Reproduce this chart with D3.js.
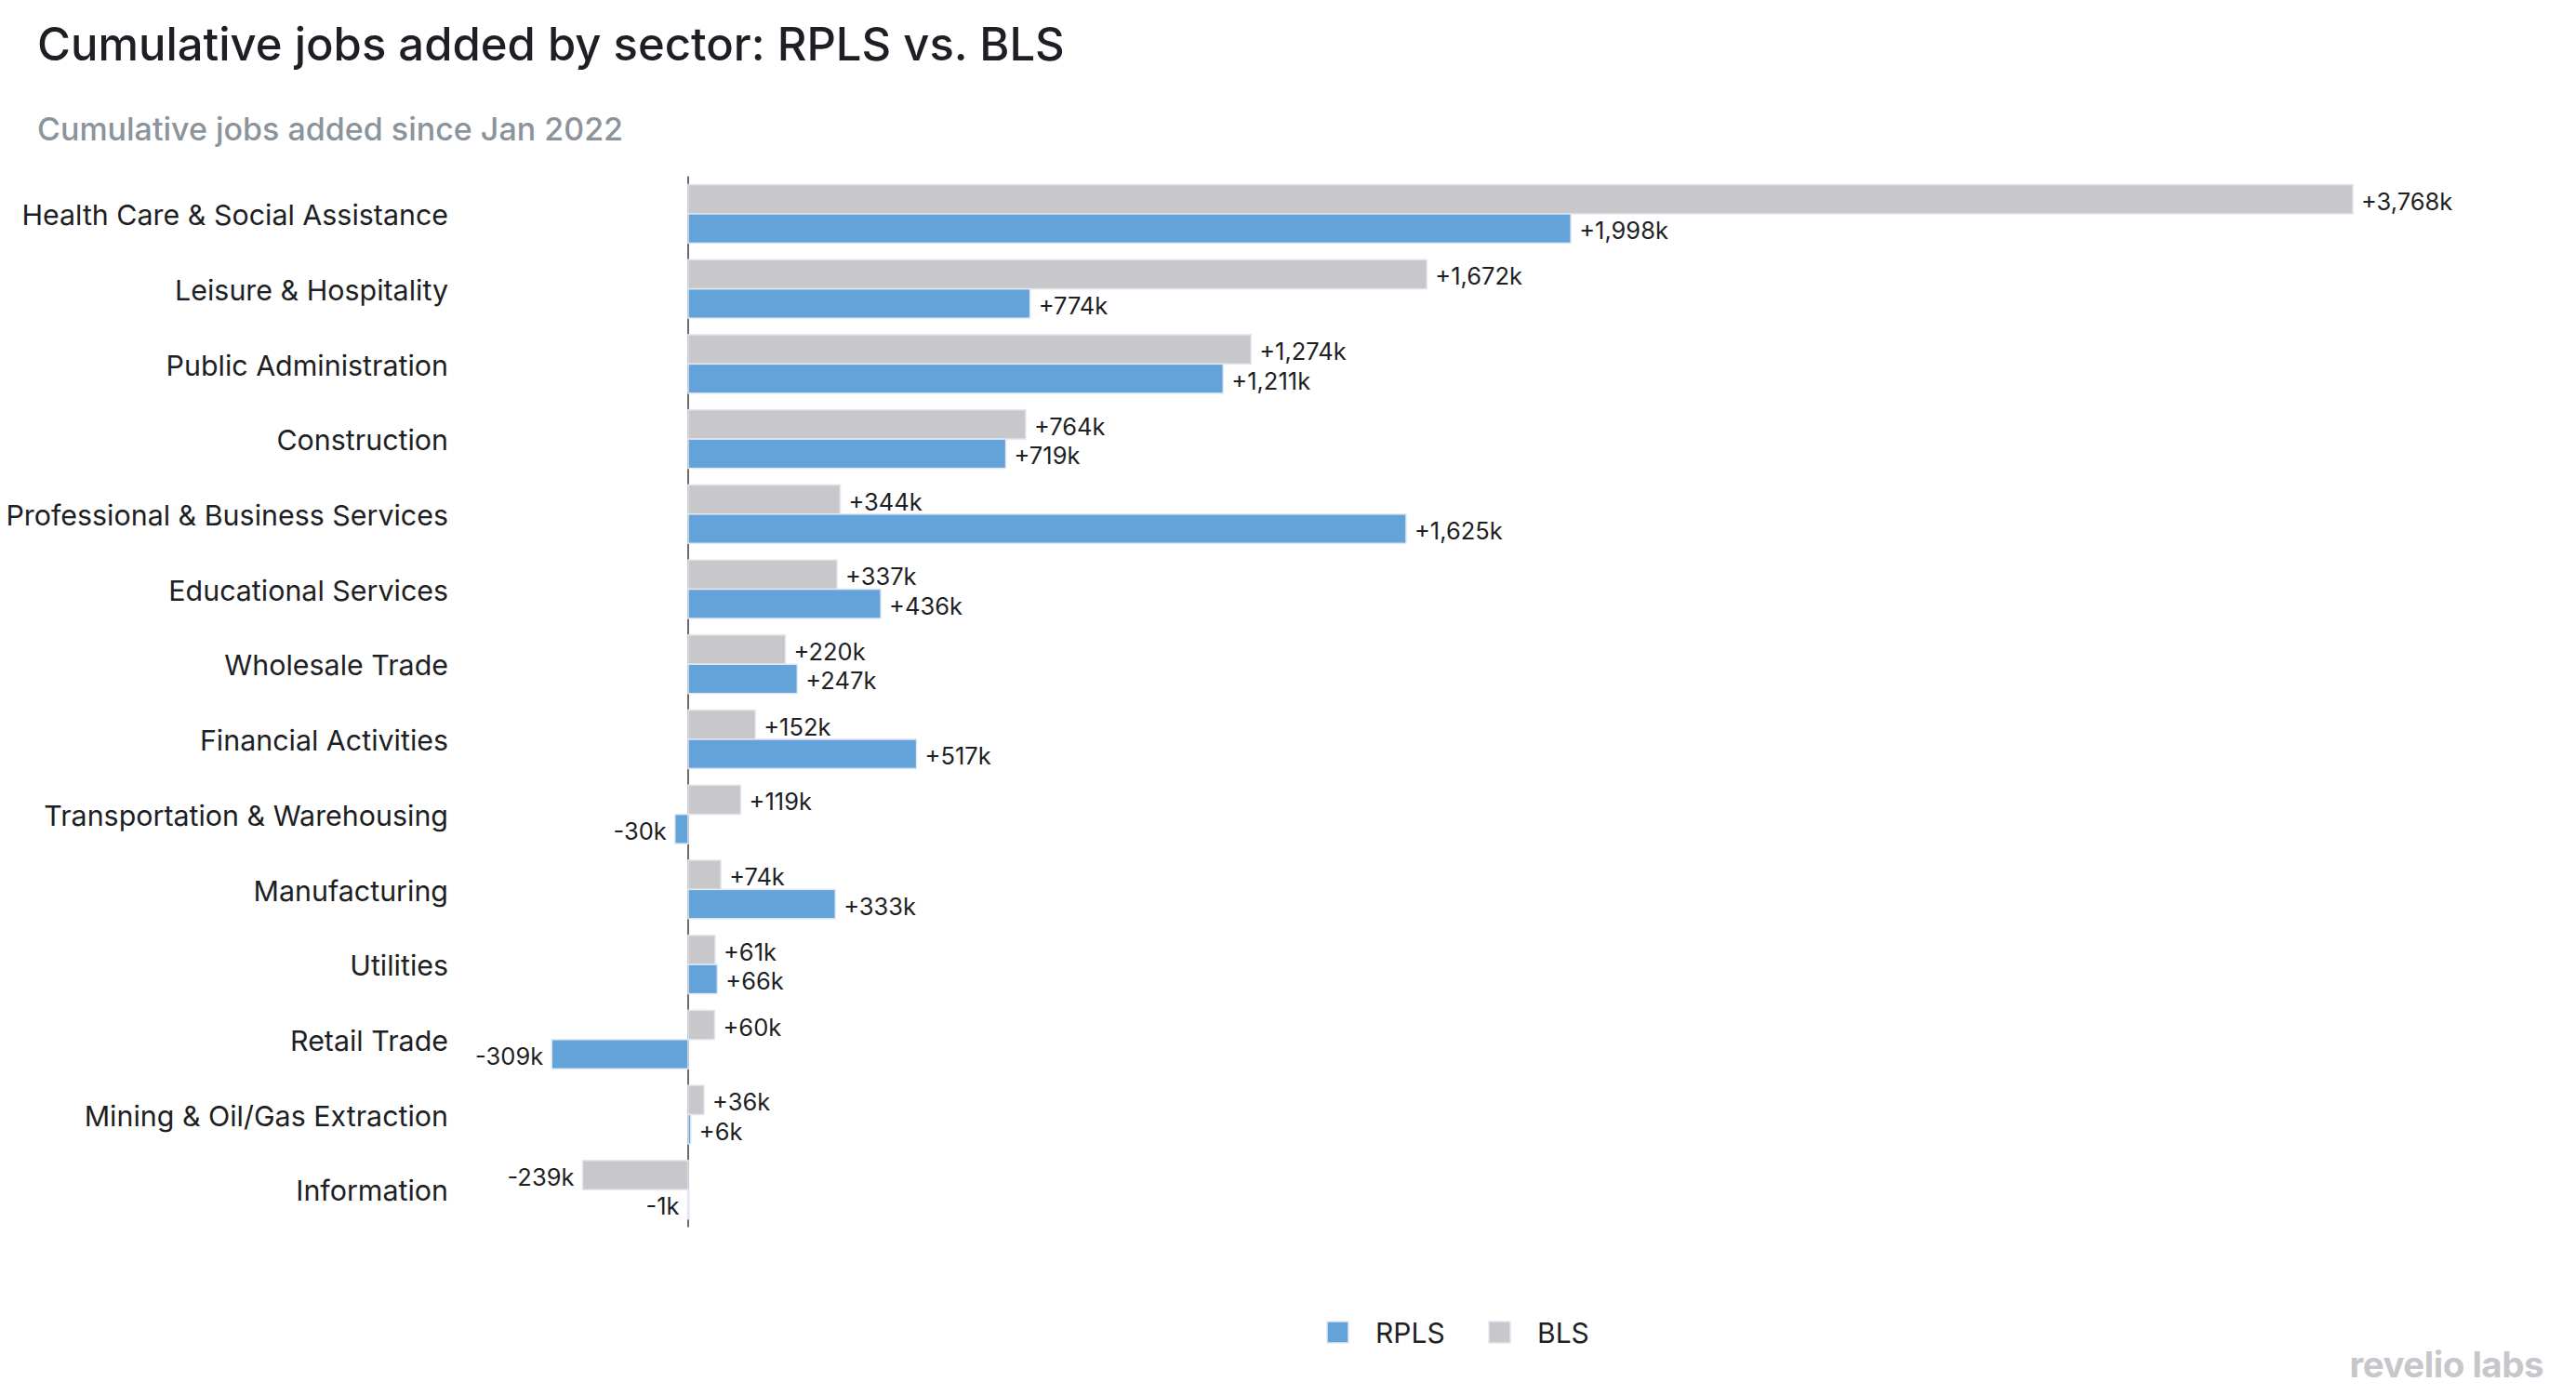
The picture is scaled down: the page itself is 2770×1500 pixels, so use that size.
<!DOCTYPE html>
<html>
<head>
<meta charset="utf-8">
<script src="https://cdn.jsdelivr.net/npm/d3@7"></script>
<style>
  html, body { margin: 0; padding: 0; background: #ffffff; }
  svg { display: block; font-family: Inter, "Noto Sans", sans-serif; }
</style>
</head>
<body>
<svg id="chart" width="2770" height="1500"></svg>
<script>
const categories = [
  "Health Care & Social Assistance",
  "Leisure & Hospitality",
  "Public Administration",
  "Construction",
  "Professional & Business Services",
  "Educational Services",
  "Wholesale Trade",
  "Financial Activities",
  "Transportation & Warehousing",
  "Manufacturing",
  "Utilities",
  "Retail Trade",
  "Mining & Oil/Gas Extraction",
  "Information"
];
const blsValues  = [3768, 1672, 1274, 764, 344, 337, 220, 152, 119, 74, 61, 60, 36, -239];
const rplsValues = [1998, 774, 1211, 719, 1625, 436, 247, 517, -30, 333, 66, -309, 6, -1];
const seriesNames = ["BLS", "RPLS"];
const legendOrder = ["RPLS", "BLS"];
const seriesColors = { RPLS: "#64a3d9", BLS: "#c8c8ca" };
const titleText = "Cumulative jobs added by sector: RPLS vs. BLS";
const subtitleText = "Cumulative jobs added since Jan 2022";

const svg = d3.select("#chart");

const rows = categories.map((c, i) => ({ category: c, BLS: blsValues[i], RPLS: rplsValues[i] }));

const x = d3.scaleLinear()
  .domain([0, d3.max(blsValues.concat(rplsValues))])
  .range([740, 2530]);

const y = d3.scaleBand()
  .domain(categories)
  .range([189.6, 1319.6])
  .paddingInner(0.22)
  .paddingOuter(0.11);

const ySub = d3.scaleBand()
  .domain(seriesNames)
  .range([0, y.bandwidth()])
  .padding(0);

const fmt = v => (v >= 0 ? "+" : "-") + d3.format(",")(Math.abs(v)) + "k";

// Title
svg.append("text")
  .attr("x", 40).attr("y", 65)
  .attr("font-size", 49).attr("font-weight", 500)
  .attr("fill", "#1d1f24")
  .text(titleText);

svg.append("text")
  .attr("x", 40).attr("y", 151)
  .attr("font-size", 34).attr("font-weight", 500)
  .attr("fill", "#8b949b")
  .text(subtitleText);

// Zero line
svg.append("line")
  .attr("x1", x(0)).attr("x2", x(0))
  .attr("y1", y.range()[0]).attr("y2", y.range()[1])
  .attr("stroke", "#3a3a3a").attr("stroke-width", 1.5);

// Category labels
svg.append("g").selectAll("text")
  .data(categories)
  .join("text")
  .attr("x", 482)
  .attr("y", d => y(d) + y.bandwidth() / 2)
  .attr("dy", "0.4em")
  .attr("text-anchor", "end")
  .attr("font-size", 30.4)
  .attr("fill", "#1d1f24")
  .text(d => d);

// Bars
const groups = svg.append("g").selectAll("g")
  .data(rows)
  .join("g")
  .attr("transform", d => `translate(0,${y(d.category)})`);

groups.selectAll("rect")
  .data(d => seriesNames.map(s => ({ key: s, value: d[s] })))
  .join("rect")
  .attr("x", d => Math.min(x(0), x(d.value)))
  .attr("y", d => ySub(d.key))
  .attr("width", d => Math.max(1.5, Math.abs(x(d.value) - x(0))))
  .attr("height", ySub.bandwidth())
  .attr("fill", d => seriesColors[d.key])
  .attr("stroke", "#e1e8f2")
  .attr("stroke-width", 1.5);

groups.selectAll("text")
  .data(d => seriesNames.map(s => ({ key: s, value: d[s] })))
  .join("text")
  .attr("x", d => d.value >= 0 ? Math.max(x(d.value), x(0)) + 9 : x(d.value) - 9)
  .attr("y", d => ySub(d.key) + ySub.bandwidth() / 2)
  .attr("dy", "0.45em")
  .attr("text-anchor", d => d.value >= 0 ? "start" : "end")
  .attr("font-size", 25.5)
  .attr("fill", "#1d1f24")
  .text(d => fmt(d.value));

// Legend
const legendX = d3.scalePoint().domain(legendOrder).range([1427, 1601]);
const lg = svg.append("g").selectAll("g")
  .data(legendOrder)
  .join("g")
  .attr("transform", d => `translate(${legendX(d)},1421)`);
lg.append("rect")
  .attr("width", 23).attr("height", 23)
  .attr("fill", d => seriesColors[d])
  .attr("stroke", "#e1e8f2").attr("stroke-width", 1.5);
lg.append("text")
  .attr("x", 52).attr("y", 11.5).attr("dy", "0.37em")
  .attr("font-size", 30)
  .attr("fill", "#1d1f24")
  .text(d => d);

// Logo
svg.append("text")
  .attr("x", 2735).attr("y", 1481)
  .attr("text-anchor", "end")
  .attr("font-size", 38.5).attr("font-weight", 700)
  .attr("fill", "#c6c7cb")
  .attr("letter-spacing", -0.5)
  .text("revelio labs");
</script>
</body>
</html>
